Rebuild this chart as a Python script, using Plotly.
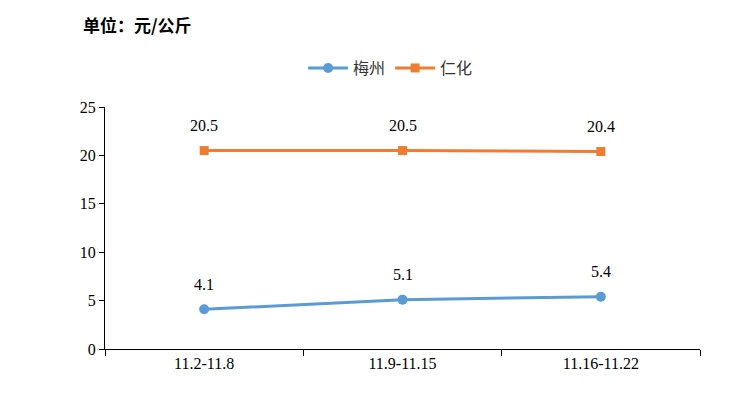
import plotly.graph_objects as go

categories = ["11.2-11.8", "11.9-11.15", "11.16-11.22"]
meizhou = [4.1, 5.1, 5.4]
renhua = [20.5, 20.5, 20.4]
y_ticks = [0, 5, 10, 15, 20, 25]

BLUE = "#5B9BD5"
ORANGE = "#ED7D31"
SERIF = "Times New Roman, Liberation Serif, DejaVu Serif, serif"
CJK = "Noto Sans CJK SC"

fig = go.Figure()
fig.add_trace(go.Scatter(x=categories, y=meizhou, name="梅州", mode="lines+markers",
                         line=dict(color=BLUE, width=3),
                         marker=dict(symbol="circle", size=10, color=BLUE)))
fig.add_trace(go.Scatter(x=categories, y=renhua, name="仁化", mode="lines+markers",
                         line=dict(color=ORANGE, width=3),
                         marker=dict(symbol="square", size=9, color=ORANGE)))

annotations = []
for series in (meizhou, renhua):
    for c, v in zip(categories, series):
        annotations.append(dict(x=c, y=v, text=f"{v:.1f}", showarrow=False,
                                yshift=25, yanchor="middle",
                                font=dict(family=SERIF, size=16, color="#000")))
annotations.append(dict(xref="paper", yref="paper", x=-0.04, y=1.339,
                        xanchor="left", yanchor="middle", showarrow=False,
                        text="<b>单位：元/公斤</b>",
                        font=dict(family=CJK, size=17, color="#000")))

fig.update_layout(
    width=751, height=395,
    margin=dict(l=105, r=51, t=107, b=46, autoexpand=False),
    paper_bgcolor="white", plot_bgcolor="white",
    showlegend=True,
    legend=dict(orientation="h", x=0.48, xanchor="center", y=1.161, yanchor="middle",
                font=dict(family=CJK, size=16, color="#333"), itemwidth=40,
                tracegroupgap=0),
    annotations=annotations,
    xaxis=dict(type="category", tickson="boundaries", ticks="outside", ticklen=6,
               tickcolor="#000", showline=True, linecolor="#000", linewidth=1,
               showgrid=False, range=[-0.5, 2.5],
               tickfont=dict(family=SERIF, size=16, color="#000")),
    yaxis=dict(range=[0, 25], tickvals=y_ticks, ticks="outside", ticklen=5,
               tickcolor="#000", showline=True, linecolor="#000", linewidth=1,
               showgrid=False, zeroline=False,
               tickfont=dict(family=SERIF, size=16, color="#000")),
)

fig.write_html("out.html")
